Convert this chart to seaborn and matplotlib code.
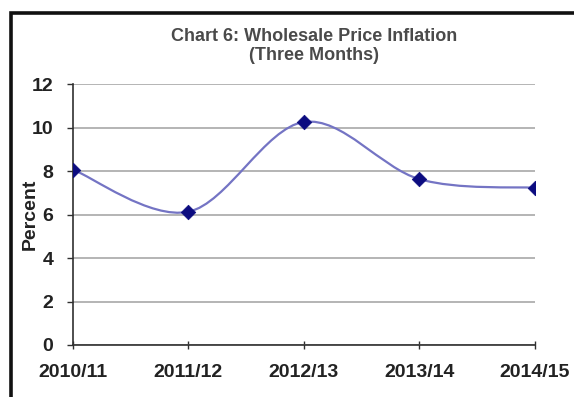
import matplotlib
matplotlib.use("Agg")
import matplotlib.pyplot as plt
from matplotlib.path import Path
from matplotlib.patches import PathPatch, Rectangle
import numpy as np
import pandas as pd
import seaborn as sns

# Wholesale price inflation, three-month figures (percent)
years = ["2010/11", "2011/12", "2012/13", "2013/14", "2014/15"]
inflation = [8.07, 6.13, 10.26, 7.63, 7.23]
y_ticks = [0, 2, 4, 6, 8, 10, 12]

title = "Chart 6: Wholesale Price Inflation\n(Three Months)"
y_label = "Percent"

sns.set_theme(style="white")
plt.rcParams["font.family"] = ["Liberation Sans", "DejaVu Sans"]

df = pd.DataFrame({"pos": np.arange(len(years)), "value": inflation})

fig = plt.figure(figsize=(5.74, 3.97), dpi=100)
ax = fig.add_axes([0.127, 0.131, 0.805, 0.657])

# Smoothed connecting line: Catmull-Rom style cubic Bezier through the points
pts = np.column_stack([df["pos"].to_numpy(float), df["value"].to_numpy(float)])
ext = np.vstack([pts[0], pts, pts[-1]])
verts = [tuple(pts[0])]
codes = [Path.MOVETO]
for i in range(len(pts) - 1):
    p_prev, p0, p1, p_next = ext[i], ext[i + 1], ext[i + 2], ext[i + 3]
    c1 = p0 + (p1 - p_prev) / 6.0
    c2 = p1 - (p_next - p0) / 6.0
    verts += [tuple(c1), tuple(c2), tuple(p1)]
    codes += [Path.CURVE4] * 3
ax.add_patch(PathPatch(Path(verts, codes), facecolor="none",
                       edgecolor="#7474c4", lw=1.6, zorder=3))

sns.scatterplot(data=df, x="pos", y="value", marker="D", s=55,
                color="#0c0c80", edgecolor="#0c0c80", linewidth=0.5,
                ax=ax, zorder=4, legend=False)

ax.set_xlim(0, len(years) - 1)
ax.set_ylim(0, 12)
ax.set_xticks(df["pos"])
ax.set_xticklabels(years)
ax.set_yticks(y_ticks)
ax.set_xlabel("")
ax.set_ylabel(y_label, fontsize=14, fontweight="bold", color="#222222")
ax.yaxis.set_label_coords(-0.073, 0.5)

ax.grid(axis="y", color="#a8a8a8", lw=1.2)
ax.grid(axis="x", visible=False)
ax.set_axisbelow(True)
for side in ("top", "right"):
    ax.spines[side].set_visible(False)
for side in ("left", "bottom"):
    ax.spines[side].set_color("#303030")
    ax.spines[side].set_linewidth(1.2)

ax.tick_params(axis="y", direction="out", length=4, width=1, color="#303030",
               labelsize=14, labelcolor="#222222", pad=10, left=True)
ax.tick_params(axis="x", direction="inout", length=6, width=1, color="#303030",
               labelsize=14, labelcolor="#222222", pad=11, bottom=True)
for lab in ax.get_xticklabels() + ax.get_yticklabels():
    lab.set_fontweight("bold")

fig.text(0.547, 0.884, title, ha="center", va="center", fontsize=13,
         fontweight="bold", color="#4a4a4a", linespacing=1.1)

# Outer chart frame
fig.patches.append(Rectangle((0.0195, -0.2), 1.2, 0.2 + 0.9685,
                             transform=fig.transFigure, fill=False,
                             edgecolor="#111111", lw=2.6))

fig.savefig("out.png", dpi=100)
